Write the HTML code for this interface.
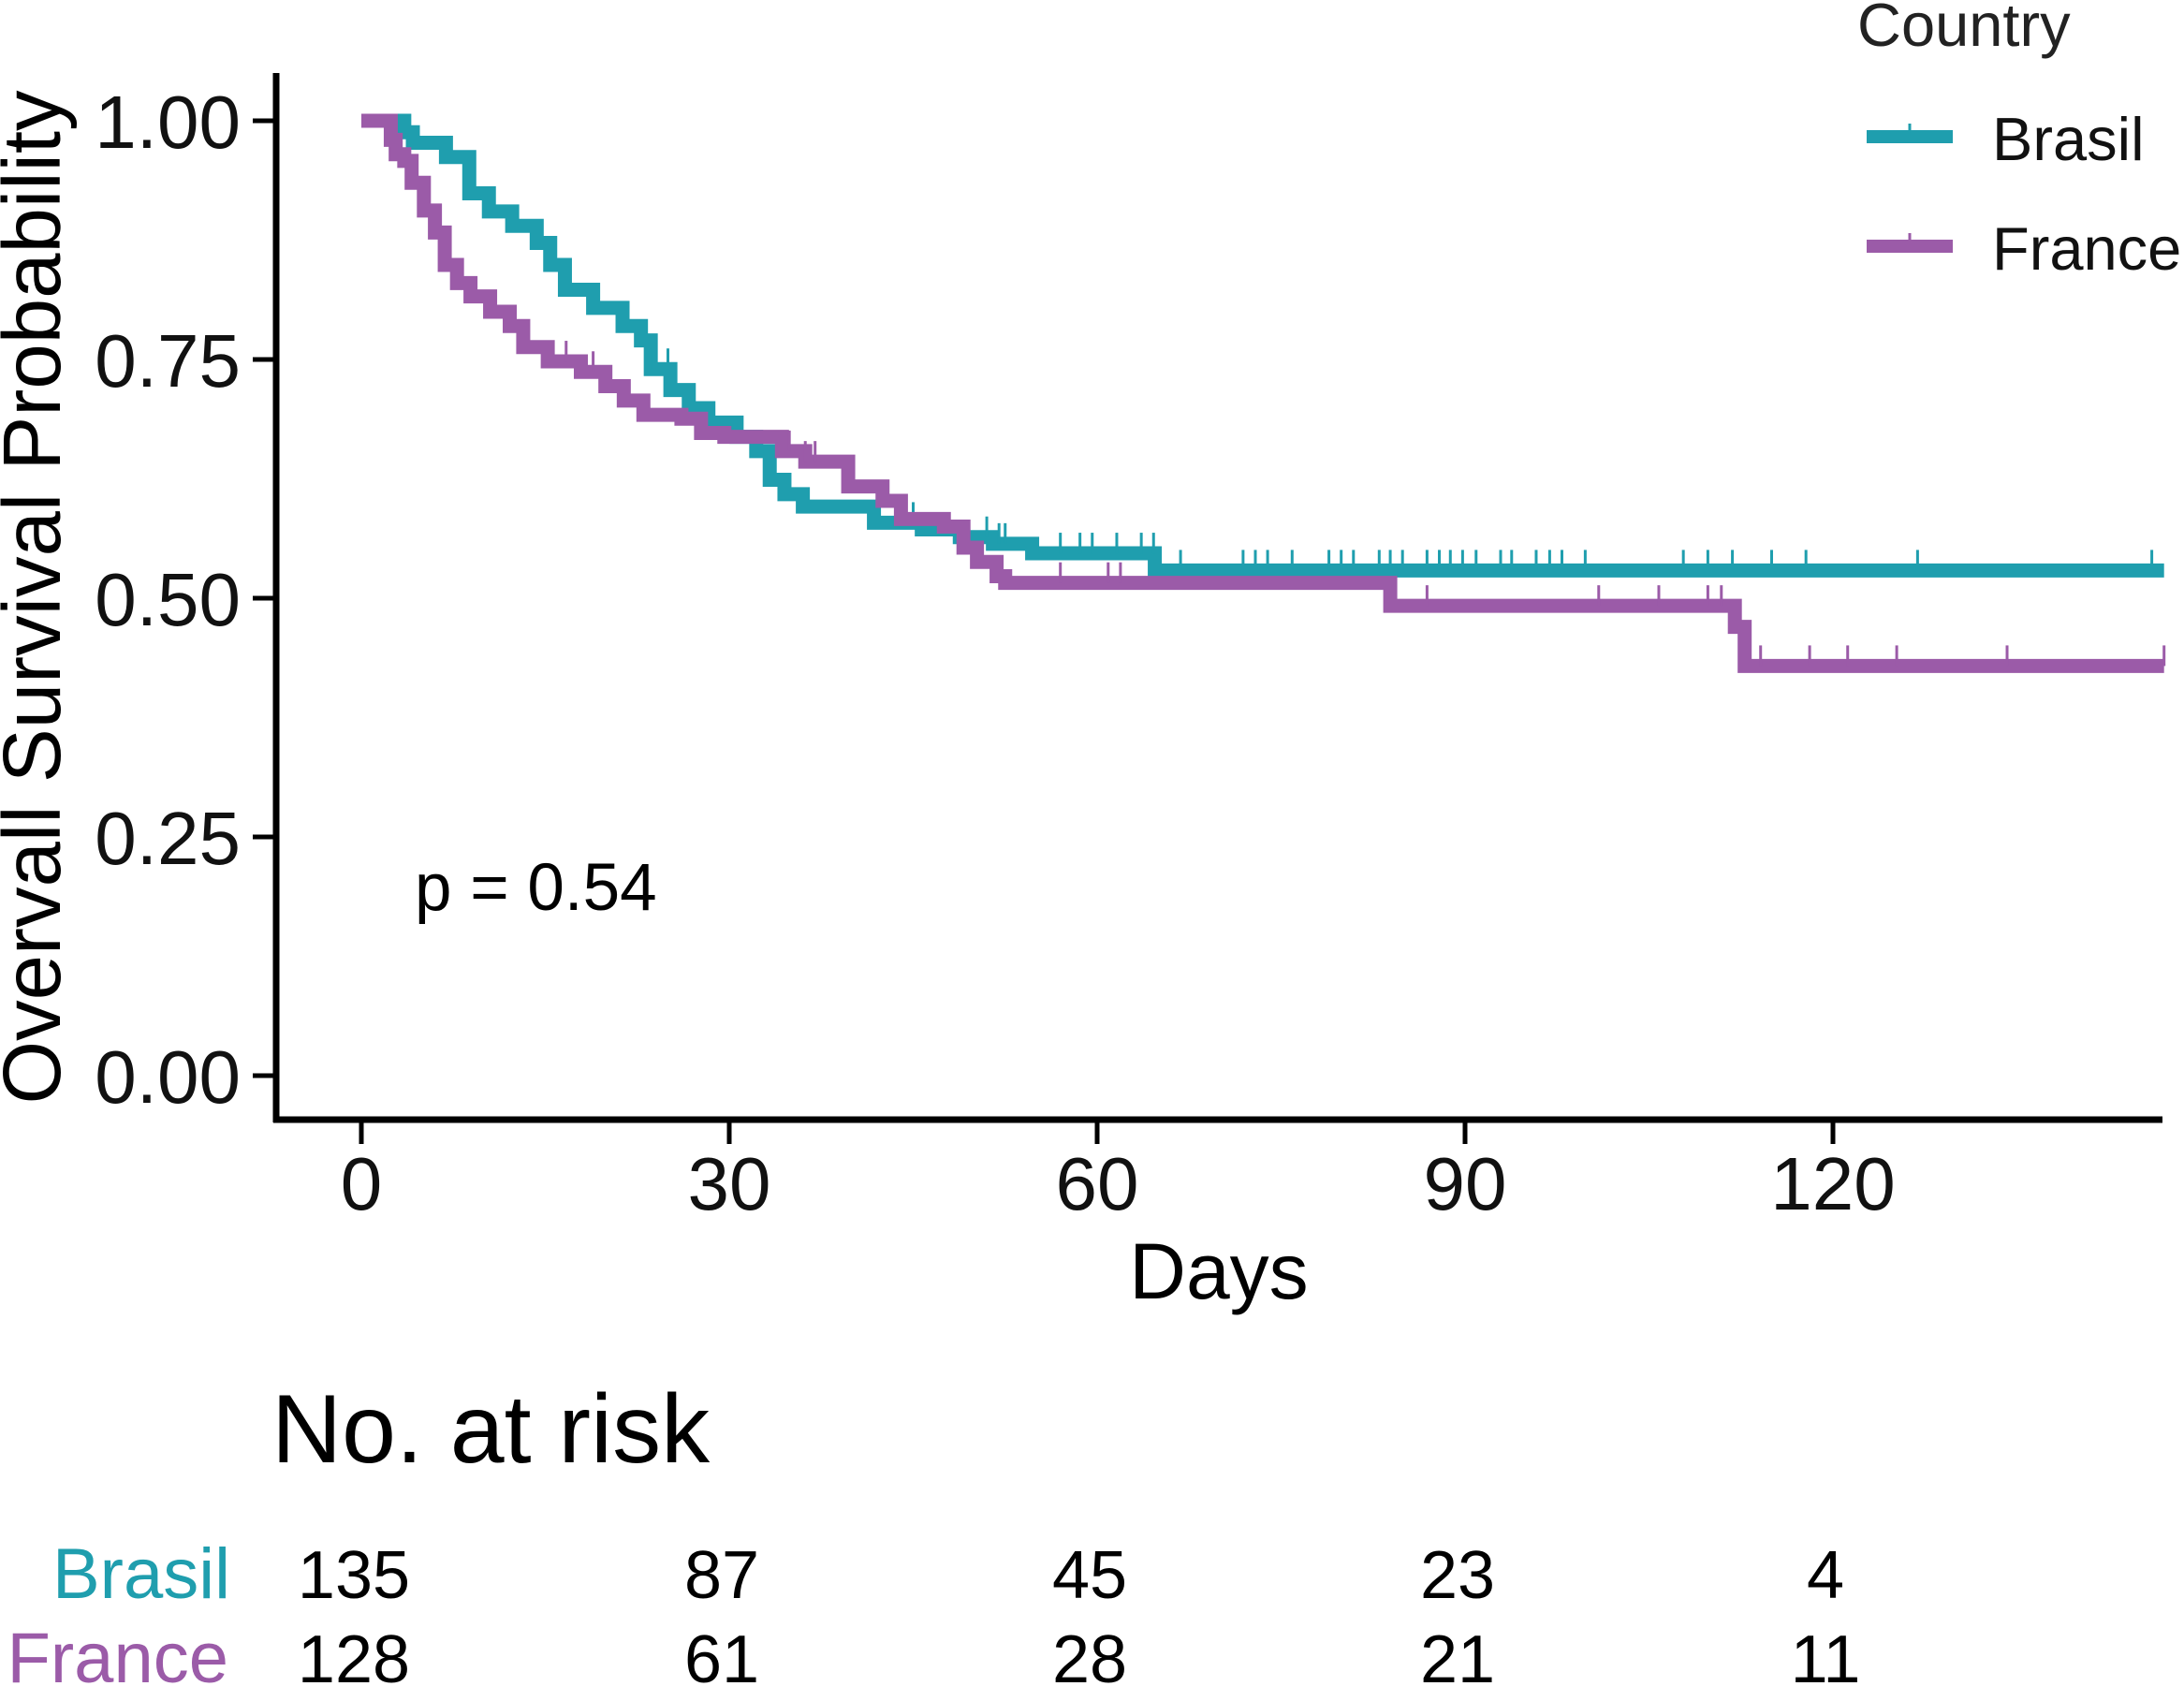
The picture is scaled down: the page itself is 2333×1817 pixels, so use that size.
<!DOCTYPE html>
<html><head><meta charset="utf-8"><style>
html,body{margin:0;padding:0;background:#fff;}
svg{display:block;font-family:"Liberation Sans",Arial,sans-serif;}
</style></head><body>
<svg id="chart" width="2333" height="1817" viewBox="0 0 2333 1817" xmlns="http://www.w3.org/2000/svg">
<rect width="2333" height="1817" fill="#fff"/>
<g id="plot"></g>
<g id="axes"></g>
<text transform="translate(64,638) rotate(-90)" text-anchor="middle" font-size="87" fill="#000">Overvall Survival Probability</text>
<text x="1302" y="1387" text-anchor="middle" font-size="84" fill="#000">Days</text>
<text x="443" y="972" font-size="71" fill="#000">p = 0.54</text>
<g>
<text x="1984" y="49" font-size="65" fill="#222">Country</text>
<g>
<line x1="1994" y1="146" x2="2086" y2="146" stroke="#1f9eae" stroke-width="14"/>
<line x1="2040" y1="132" x2="2040" y2="146" stroke="#1f9eae" stroke-width="3"/>
<text x="2128" y="171" font-size="65" fill="#111">Brasil</text></g>
<g>
<line x1="1994" y1="263" x2="2086" y2="263" stroke="#9b5ba8" stroke-width="14"/>
<line x1="2040" y1="249" x2="2040" y2="263" stroke="#9b5ba8" stroke-width="3"/>
<text x="2128" y="288" font-size="65" fill="#111">France</text></g>
</g>
<text x="290" y="1562" font-size="104" fill="#000">No. at risk</text>
<text x="246" y="1707" text-anchor="end" font-size="76" fill="#1f9eae">Brasil</text>
<text x="244" y="1797" text-anchor="end" font-size="76" fill="#9b5ba8">France</text>
<g id="risk"></g>
</svg>
<script>
const riskDays = [0, 30, 60, 90, 120];
const riskBrasil = [135, 87, 45, 23, 4];
const riskFrance = [128, 61, 28, 21, 11];
const xTicks = [0, 30, 60, 90, 120];
const yTicks = [0, 0.25, 0.5, 0.75, 1.0];
const yTickLabels = ["0.00", "0.25", "0.50", "0.75", "1.00"];
const brasilTime = [0, 3.5, 4.2, 6.9, 8.8, 10.4, 12.3, 14.3, 15.4, 16.6, 18.9, 21.3, 22.8, 23.6, 25.2, 26.7, 28.3, 30.6, 32.2, 33.3, 34.5, 36.0, 41.8, 45.7, 48.8, 51.5, 54.7, 64.7, 147];
const brasilSurv = [1.0, 0.988, 0.977, 0.962, 0.924, 0.905, 0.890, 0.872, 0.849, 0.823, 0.804, 0.785, 0.770, 0.740, 0.718, 0.699, 0.684, 0.669, 0.654, 0.624, 0.609, 0.596, 0.579, 0.572, 0.564, 0.557, 0.547, 0.529, 0.529];
const brasilCensor = [23.6, 25, 45, 51, 52, 52.5, 57, 58.6, 59.6, 61.6, 63.6, 64.6, 66.8, 71.9, 72.9, 73.9, 75.9, 78.9, 79.9, 80.9, 83.0, 83.9, 84.9, 86.9, 87.9, 88.8, 89.8, 90.9, 92.9, 93.8, 95.8, 96.9, 97.9, 99.8, 107.8, 109.8, 111.8, 115.0, 117.8, 126.9, 146];
const franceTime = [0, 2.4, 2.8, 3.5, 4.1, 5.1, 6.0, 6.8, 7.8, 8.9, 10.5, 12.1, 13.2, 15.2, 17.9, 19.9, 21.4, 23.0, 26.1, 27.7, 29.6, 34.3, 36.2, 39.7, 42.5, 44.0, 47.5, 49.1, 50.2, 51.8, 52.5, 83.9, 112.0, 112.8, 147];
const franceSurv = [1.0, 0.980, 0.965, 0.958, 0.935, 0.906, 0.883, 0.849, 0.830, 0.816, 0.800, 0.785, 0.763, 0.748, 0.737, 0.722, 0.707, 0.692, 0.688, 0.673, 0.669, 0.654, 0.643, 0.617, 0.602, 0.583, 0.575, 0.553, 0.538, 0.523, 0.516, 0.492, 0.47, 0.429, 0.429];
const franceCensor = [16.7, 18.9, 34.9, 36.2, 37, 57, 60.9, 61.9, 86.9, 100.9, 105.8, 109.8, 110.9, 114.1, 118.1, 121.2, 125.2, 134.2, 147];

const NS = "http://www.w3.org/2000/svg";
const X = d => 386 + d * 13.1;
const Y = p => 1149 - p * 1020;
function mk(tag, attrs, parent) {
  const e = document.createElementNS(NS, tag);
  for (const k in attrs) e.setAttribute(k, attrs[k]);
  parent.appendChild(e);
  return e;
}
const plot = document.getElementById('plot');
const axes = document.getElementById('axes');
const risk = document.getElementById('risk');

function survSeries(times, surv, censor, color, name) {
  let d = "M" + X(times[0]) + "," + Y(surv[0]);
  for (let i = 1; i < times.length; i++) {
    d += " H" + X(times[i]) + " V" + Y(surv[i]);
  }
  const p = mk('path', {d: d, fill: 'none', stroke: color, 'stroke-width': 15, 'stroke-linejoin': 'miter'}, plot);
  
  
  censor.forEach(c => {
    let s = surv[0];
    for (let i = 0; i < times.length; i++) { if (times[i] <= c) s = surv[i]; }
    const l = mk('line', {x1: X(c), x2: X(c), y1: Y(s) - 22, y2: Y(s), stroke: color, 'stroke-width': 3}, plot);
    
    
  });
}
survSeries(brasilTime, brasilSurv, brasilCensor, '#1f9eae', 'brasil');
survSeries(franceTime, franceSurv, franceCensor, '#9b5ba8', 'france');

const ya = mk('line', {x1: 295, y1: 78, x2: 295, y2: 1199, stroke: '#000', 'stroke-width': 7}, axes);


const xa = mk('line', {x1: 292, y1: 1196, x2: 2310, y2: 1196, stroke: '#000', 'stroke-width': 7}, axes);


yTicks.forEach((t, i) => {
  const l = mk('line', {x1: 270, x2: 295, y1: Y(t), y2: Y(t), stroke: '#000', 'stroke-width': 5}, axes);
  
  
  const tx = mk('text', {x: 257, y: Y(t) + 29, 'text-anchor': 'end', 'font-size': 80, fill: '#111'}, axes);
  tx.textContent = yTickLabels[i];
  
  
});
xTicks.forEach(t => {
  const l = mk('line', {x1: X(t), x2: X(t), y1: 1196, y2: 1222, stroke: '#000', 'stroke-width': 5}, axes);
  
  
  const tx = mk('text', {x: X(t), y: 1292, 'text-anchor': 'middle', 'font-size': 80, fill: '#111'}, axes);
  tx.textContent = String(t);
  
  
});
riskDays.forEach((d, i) => {
  const a = mk('text', {x: X(d) - 8, y: 1707, 'text-anchor': 'middle', 'font-size': 72, fill: '#000'}, risk);
  a.textContent = String(riskBrasil[i]);
  
  
  const b = mk('text', {x: X(d) - 8, y: 1797, 'text-anchor': 'middle', 'font-size': 72, fill: '#000'}, risk);
  b.textContent = String(riskFrance[i]);
  
  
});
</script>
</body></html>
